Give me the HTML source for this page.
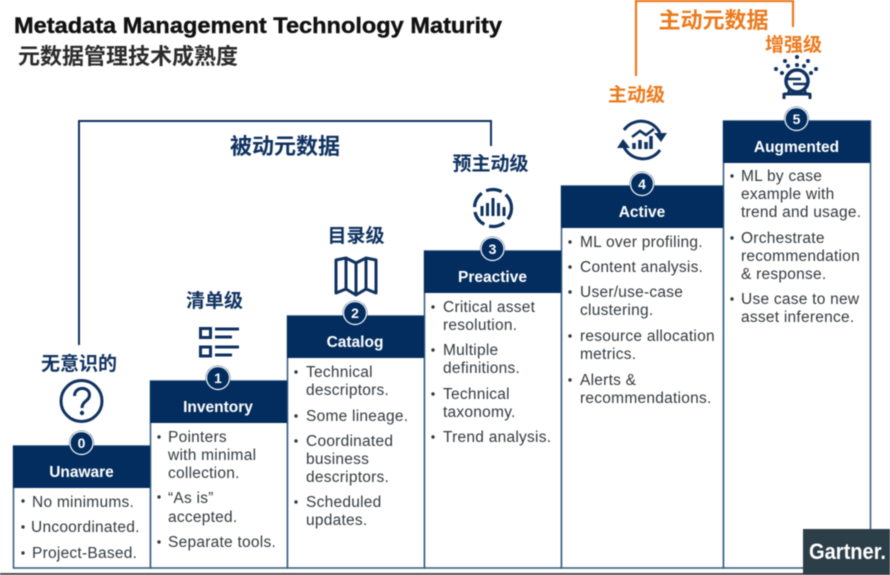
<!DOCTYPE html>
<html><head><meta charset="utf-8">
<style>
html,body{margin:0;padding:0;background:#fff;width:890px;height:575px;overflow:hidden}
svg{display:block;filter:blur(.4px)}
text{font-family:"Liberation Sans","Noto Sans CJK SC",sans-serif}
.b{font-size:15.5px;fill:#333a3f;letter-spacing:.25px}
.h{font-size:15.5px;font-weight:bold;fill:#fff;text-anchor:middle}
.n{font-size:14px;font-weight:bold;fill:#fff;text-anchor:middle}
.l{font-size:19px;font-weight:bold;fill:#0f3260;text-anchor:middle}
.o{fill:#ec7a1c;font-weight:bold;text-anchor:middle}
</style></head><body>
<svg width="890" height="575" viewBox="0 0 890 575" xmlns="http://www.w3.org/2000/svg">
<rect width="890" height="575" fill="#fff"/>
<text x="14" y="33" font-size="22.5" font-weight="bold" fill="#111" stroke="#111" stroke-width=".4" textLength="488" lengthAdjust="spacingAndGlyphs">Metadata Management Technology Maturity</text>
<text x="18" y="64" font-size="22" font-weight="bold" fill="#2b2b2b">元数据管理技术成熟度</text>

<path d="M79 345V121H491V146" fill="none" stroke="#0f3260" stroke-width="2"/>
<text x="285" y="154" font-size="22" font-weight="bold" fill="#0f3260" text-anchor="middle">被动元数据</text>
<path d="M636 76V1H793V27" fill="none" stroke="#ec7a1c" stroke-width="2.2"/>
<text x="713.500" y="28" font-size="22" class="o">主动元数据</text>

<!-- panels -->
<g fill="#fff" stroke="#31587f" stroke-width="1.500">
<rect x="13.500" y="446" width="137" height="122"/>
<rect x="150.500" y="381" width="137" height="187"/>
<rect x="287.500" y="316" width="137" height="252"/>
<rect x="424.500" y="251" width="137" height="317"/>
<rect x="561.500" y="186" width="162" height="382"/>
<rect x="723.500" y="121" width="147" height="447"/>
</g>
<g fill="#032d5e">
<rect x="13" y="446" width="137" height="42"/>
<rect x="150" y="381" width="137" height="42"/>
<rect x="287" y="316" width="137" height="42"/>
<rect x="424" y="251" width="137" height="42"/>
<rect x="561" y="186" width="162" height="42"/>
<rect x="723" y="121" width="147" height="42"/>
</g>
<rect x="0" y="573" width="890" height="2" fill="#4a4f55"/>
<g fill="#032d5e">
<circle cx="81.500" cy="443" r="12.500"/>
<circle cx="218" cy="378" r="12.500"/>
<circle cx="355" cy="313" r="12.500"/>
<circle cx="492.500" cy="249" r="12.500"/>
<circle cx="642" cy="184" r="12.500"/>
<circle cx="796.500" cy="119" r="12.500"/>
</g>
<g fill="none" stroke="#fff" stroke-width="1.200">
<circle cx="81.500" cy="443" r="11.500"/>
<circle cx="218" cy="378" r="11.500"/>
<circle cx="355" cy="313" r="11.500"/>
<circle cx="492.500" cy="249" r="11.500"/>
<circle cx="642" cy="184" r="11.500"/>
<circle cx="796.500" cy="119" r="11.500"/>
</g>
<text class="n" x="81.500" y="448">0</text>
<text class="n" x="218" y="383">1</text>
<text class="n" x="355" y="318">2</text>
<text class="n" x="492.500" y="254">3</text>
<text class="n" x="642" y="189">4</text>
<text class="n" x="796.500" y="124">5</text>

<text class="h" x="81.500" y="477">Unaware</text>
<text class="h" x="218" y="412">Inventory</text>
<text class="h" x="355" y="347">Catalog</text>
<text class="h" x="492.500" y="282">Preactive</text>
<text class="h" x="642" y="217">Active</text>
<text class="h" x="796.500" y="152">Augmented</text>

<text class="l" x="79" y="370">无意识的</text>
<text class="l" x="214.500" y="307">清单级</text>
<text class="l" x="356" y="242">目录级</text>
<text class="l" x="490.500" y="170">预主动级</text>
<text class="o" font-size="19" x="636.500" y="101">主动级</text>
<text class="o" font-size="19" x="793.500" y="51">增强级</text>

<!-- question icon -->
<circle cx="81.500" cy="401" r="20.500" fill="none" stroke="#0f3260" stroke-width="3"/>
<path d="M74.500 396c0-10 15-10 15 -1c0 6-7.500 6-7.500 13" fill="none" stroke="#0f3260" stroke-width="3"/>
<circle cx="82" cy="413" r="2.200" fill="#0f3260"/>
<!-- list icon -->
<g fill="none" stroke="#0f3260" stroke-width="3">
<rect x="200.500" y="328.500" width="10" height="9"/>
<rect x="200.500" y="347" width="10" height="9"/>
<path d="M215 329H239M215 337H232M215 347H239M215 355H232"/>
</g>
<!-- map icon -->
<path d="M336 260V293L346 289L356 295L366 289L376 293V260L366 258L356 263L346 258Z M346 258V289M356 263V295M366 258V289" fill="none" stroke="#0f3260" stroke-width="3" stroke-linejoin="round"/>
<!-- dashed circle bars -->
<circle cx="493" cy="208" r="18.500" fill="none" stroke="#0f3260" stroke-width="3.200" stroke-dasharray="16 5" stroke-dashoffset="4"/>
<path d="M482 206V216M487.500 203V216M493 198V216M498.500 203V216M504 207V216" stroke="#0f3260" stroke-width="3" fill="none"/>
<!-- active icon -->
<g fill="none" stroke="#0f3260" stroke-width="3">
<path d="M624 130A21 21 0 0 1 660 133"/>
<path d="M660 150A21 21 0 0 1 624 147"/>
<path d="M634 143V149M640 140V149M646 142V149M651 136V149" stroke-width="3.500"/>
<path d="M632 137L640 131L646 135L654 129" stroke-width="2.600"/>
</g>
<path d="M654 133L667 133L661 142Z M617 148L630 148L623 139Z" fill="#0f3260"/>
<!-- augmented icon -->
<g fill="#0f3260">
<circle cx="797" cy="57" r="2"/><circle cx="785" cy="61" r="2"/><circle cx="808" cy="61" r="2"/>
<circle cx="788" cy="66" r="2"/><circle cx="797" cy="65" r="2"/><circle cx="804" cy="66" r="2"/>
<circle cx="776" cy="69" r="2"/><circle cx="816" cy="69" r="2"/><circle cx="782" cy="73" r="2"/><circle cx="811" cy="73" r="2"/>
</g>
<g fill="none" stroke="#0f3260">
<circle cx="797" cy="81" r="11" stroke-width="3.500"/>
<path d="M787 79H801M793 84H807" stroke-width="2.600"/>
<path d="M790 89L788 94M804 89L806 94M784 94H810M784 93V99M810 93V99" stroke-width="3"/>
</g>

<!-- bullets -->
<g fill="#333a3f">
<circle cx="23" cy="501" r="1.700"/><circle cx="23" cy="527" r="1.700"/><circle cx="23" cy="553" r="1.700"/>
<circle cx="159" cy="437" r="1.700"/><circle cx="159" cy="497" r="1.700"/><circle cx="159" cy="542" r="1.700"/>
<circle cx="296" cy="372" r="1.700"/><circle cx="296" cy="416" r="1.700"/><circle cx="296" cy="441" r="1.700"/><circle cx="296" cy="502" r="1.700"/>
<circle cx="433" cy="307" r="1.700"/><circle cx="433" cy="350" r="1.700"/><circle cx="433" cy="394" r="1.700"/><circle cx="433" cy="437" r="1.700"/>
<circle cx="570" cy="242" r="1.700"/><circle cx="570" cy="267" r="1.700"/><circle cx="570" cy="292" r="1.700"/><circle cx="570" cy="336" r="1.700"/><circle cx="570" cy="380" r="1.700"/>
<circle cx="732" cy="176" r="1.700"/><circle cx="732" cy="238" r="1.700"/><circle cx="732" cy="299" r="1.700"/>
</g>

<text class="b" x="32" y="507">No minimums.</text>
<text class="b" x="31" y="532">Uncoordinated.</text>
<text class="b" x="32" y="558">Project-Based.</text>

<text class="b" x="168" y="442">Pointers</text>
<text class="b" x="168" y="460">with minimal</text>
<text class="b" x="168" y="478">collection.</text>
<text class="b" x="168" y="503">“As is”</text>
<text class="b" x="168" y="522">accepted.</text>
<text class="b" x="168" y="547">Separate tools.</text>

<text class="b" x="306" y="377">Technical</text>
<text class="b" x="306" y="395">descriptors.</text>
<text class="b" x="306" y="421">Some lineage.</text>
<text class="b" x="306" y="446">Coordinated</text>
<text class="b" x="306" y="464">business</text>
<text class="b" x="306" y="482">descriptors.</text>
<text class="b" x="306" y="507">Scheduled</text>
<text class="b" x="306" y="525">updates.</text>

<text class="b" x="443" y="312">Critical asset</text>
<text class="b" x="443" y="330">resolution.</text>
<text class="b" x="443" y="355">Multiple</text>
<text class="b" x="443" y="373">definitions.</text>
<text class="b" x="443" y="399">Technical</text>
<text class="b" x="443" y="417">taxonomy.</text>
<text class="b" x="443" y="442">Trend analysis.</text>

<text class="b" x="580" y="247">ML over profiling.</text>
<text class="b" x="580" y="272">Content analysis.</text>
<text class="b" x="580" y="297">User/use-case</text>
<text class="b" x="580" y="315">clustering.</text>
<text class="b" x="580" y="341">resource allocation</text>
<text class="b" x="580" y="359">metrics.</text>
<text class="b" x="580" y="385">Alerts &amp;</text>
<text class="b" x="580" y="403">recommendations.</text>

<text class="b" x="741" y="181">ML by case</text>
<text class="b" x="741" y="199">example with</text>
<text class="b" x="741" y="217">trend and usage.</text>
<text class="b" x="741" y="243">Orchestrate</text>
<text class="b" x="741" y="261">recommendation</text>
<text class="b" x="741" y="279">&amp; response.</text>
<text class="b" x="741" y="304">Use case to new</text>
<text class="b" x="741" y="322">asset inference.</text>

<rect x="803" y="529" width="87" height="46" fill="#2c3e48"/>
<text x="809" y="559" font-size="22" font-weight="bold" fill="#fff" textLength="77" lengthAdjust="spacingAndGlyphs">Gartner.</text>
</svg>
</body></html>
